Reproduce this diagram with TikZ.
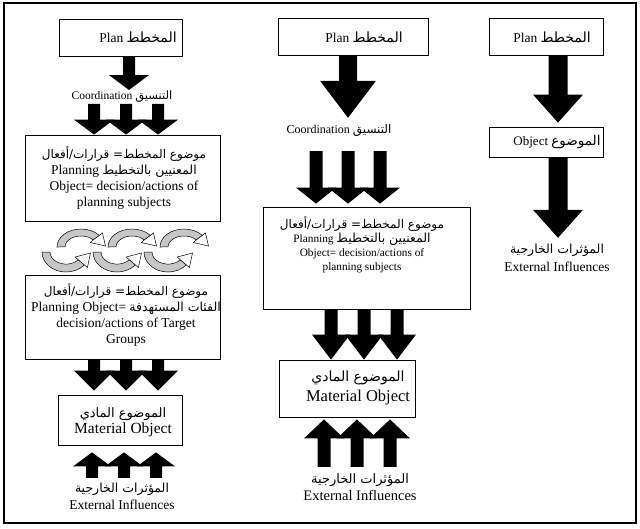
\documentclass[tikz,border=0pt]{standalone}
\usepackage{fontspec}
\setmainfont{Liberation Serif}
\newfontfamily\arabicfont[Script=Arabic]{DejaVu Sans}
\TeXXeTstate=1
\usetikzlibrary{calc}

% Arabic run: size in pt, text
\newcommand{\artext}[2]{\hbox{\fontsize{#1}{#1}\arabicfont #2}}
% fat block arrow: start, tip, shaft half width, head half width, head length
\newcommand{\fatarrow}[5]{%
  \fill let \p1=#1, \p2=#2 in
    ({\x1-#3},\y1) -- ({\x1+#3},\y1) -- ({\x1+#3},{\y2+(#5)}) -- ({\x1+#4},{\y2+(#5)})
    -- (\x1,\y2) -- ({\x1-#4},{\y2+(#5)}) -- ({\x1-#3},{\y2+(#5)}) -- cycle;}
% curved arrows between the two object boxes
\newcommand{\overcurve}[2]{%
  \begin{scope}[shift={(#1,#2)}]
    \filldraw[curveband] (-24,0) arc[start angle=180,end angle=320,x radius=24,y radius=18]
      -- (12.3,-7.1) arc[start angle=320,end angle=180,x radius=16,y radius=11] -- cycle;
    \filldraw[curvehead] (18.4,-11.6) -- (21.4,-14.1) -- (24.5,-1) -- (9.2,-4.5) -- (12.3,-7.1) -- cycle;
  \end{scope}}
\newcommand{\undercurve}[2]{%
  \begin{scope}[shift={(#1,#2)}]
    \filldraw[curveband] (-24,0) arc[start angle=180,end angle=40,x radius=24,y radius=20]
      -- (12.3,7.8) arc[start angle=40,end angle=180,x radius=16,y radius=12] -- cycle;
    \filldraw[curvehead] (18.4,12.9) -- (21.4,15.6) -- (24.5,1) -- (9.2,5) -- (12.3,7.8) -- cycle;
  \end{scope}}

\tikzset{
  frame/.style={draw, line width=1.4pt},
  box/.style={draw, line width=0.8pt, inner sep=0pt},
  lbl/.style={inner sep=1pt},
  curveband/.style={draw, line width=0.5pt, fill=gray!45},
  curvehead/.style={draw, line width=0.5pt, fill=white},
}

\begin{document}
\begin{tikzpicture}[x=1pt,y=-1pt]
\useasboundingbox (0,0) rectangle (640,528);
\draw[frame] (4,3) rectangle (636,523);

% left column
\node[box, minimum width=123pt, minimum height=37pt] (plana) at (120.5,37.5) {};
\node[lbl, font=\fontsize{13.5}{15}\selectfont] (planatxt) at (138,37) {Plan \artext{14}{\beginR المخطط\endR}};
\node[lbl, font=\fontsize{11.5}{15}\selectfont] (coorda) at (122,97) {Coordination \artext{11.5}{\beginR التنسيق\endR}};
\node[box, minimum width=195pt, minimum height=86pt] (subja) at (122.5,178) {};
\node[lbl, font=\fontsize{13.5}{16}\selectfont] (subjatxt) at (124,179)
  {\begin{tabular}{@{}c@{}}
   \artext{12}{\beginR موضوع المخطط= قرارات/أفعال\endR}\\
   Planning \artext{12.5}{\beginR المعنيين بالتخطيط\endR}\\
   Object= decision/actions of\\
   planning subjects
   \end{tabular}};
\node[box, minimum width=195pt, minimum height=84pt] (targa) at (122.5,317) {};
\node[lbl, font=\fontsize{13.5}{16}\selectfont] (targatxt) at (126,316)
  {\begin{tabular}{@{}c@{}}
   \artext{12}{\beginR موضوع المخطط= قرارات/أفعال\endR}\\
   Planning Object= \artext{12.5}{\beginR الفئات المستهدفة\endR}\\
   decision/actions of Target\\
   Groups
   \end{tabular}};
\node[box, minimum width=124pt, minimum height=50pt] (mata) at (120,420) {};
\node[lbl, font=\fontsize{15.5}{16}\selectfont] (matatxt) at (123,422)
  {\begin{tabular}{@{}c@{}}\artext{13}{\beginR الموضوع المادي\endR}\\ Material Object\end{tabular}};
\node[lbl, font=\fontsize{13.5}{17}\selectfont] (exta) at (122,498)
  {\begin{tabular}{@{}c@{}}\artext{12.5}{\beginR المؤثرات الخارجية\endR}\\ External Influences\end{tabular}};

\fatarrow{($(plana.south)+(8.5,0)$)}{(coorda.north)}{6pt}{20pt}{15pt}
\foreach \dx in {-28,4,36}
  {\fatarrow{($(coorda.south)+(\dx,0)$)}{(subja.north)}{6pt}{20pt}{15pt}}
\foreach \cx in {81,132,184} {\overcurve{\cx}{247}}
\foreach \cx in {66,117,168} {\undercurve{\cx}{252}}
\foreach \dx in {-28.5,3.5,35.5}
  {\fatarrow{($(targa.south)+(\dx,0)$)}{($(mata.north)+(0,-4)$)}{6pt}{20pt}{20pt}}
\foreach \dx in {-30,2,34}
  {\fatarrow{($(exta.north)+(\dx,-2)$)}{($(mata.south)+(0,7)$)}{6pt}{19pt}{-14pt}}

% middle column
\node[box, minimum width=150pt, minimum height=37pt] (planb) at (353,36.5) {};
\node[lbl, font=\fontsize{13.5}{15}\selectfont] (planbtxt) at (364,37) {Plan \artext{14}{\beginR المخطط\endR}};
\node[lbl, font=\fontsize{12}{15}\selectfont] (coordb) at (339,130) {Coordination \artext{12}{\beginR التنسيق\endR}};
\node[box, minimum width=207pt, minimum height=102pt] (subjb) at (366.5,258) {};
\node[lbl, font=\fontsize{11.3}{14}\selectfont] (subjbtxt) at (362,246)
  {\begin{tabular}{@{}c@{}}
   \artext{12}{\beginR موضوع المخطط= قرارات/أفعال\endR}\\
   Planning \artext{12.5}{\beginR المعنيين بالتخطيط\endR}\\
   Object= decision/actions of\\
   planning subjects
   \end{tabular}};
\node[box, minimum width=136pt, minimum height=57pt] (matb) at (347,388.5) {};
\node[lbl, font=\fontsize{16.5}{20}\selectfont] (matbtxt) at (358,387)
  {\begin{tabular}{@{}c@{}}\artext{14}{\beginR الموضوع المادي\endR}\\ Material Object\end{tabular}};
\node[lbl, font=\fontsize{14.5}{17}\selectfont] (extb) at (360,489)
  {\begin{tabular}{@{}c@{}}\artext{13}{\beginR المؤثرات الخارجية\endR}\\ External Influences\end{tabular}};

\fatarrow{($(planb.south)+(-5,0)$)}{($(coordb.north)+(0,-5)$)}{9pt}{28pt}{37pt}
\foreach \dx in {-23,9,41}
  {\fatarrow{($(coordb.south)+(\dx,14)$)}{($(subjb.north)+(0,-3)$)}{6.5pt}{20pt}{16pt}}
\foreach \dx in {-35.5,-2.5,30.5}
  {\fatarrow{($(subjb.south)+(\dx,0)$)}{(matb.north)}{6.5pt}{19pt}{25pt}}
\foreach \dx in {-36,-3,30}
  {\fatarrow{($(extb.north)+(\dx,-4)$)}{($(matb.south)+(0,2)$)}{6.5pt}{20pt}{-19pt}}

% right column
\node[box, minimum width=114pt, minimum height=37pt] (planc) at (546,36.5) {};
\node[lbl, font=\fontsize{13.5}{15}\selectfont] (planctxt) at (552,37) {Plan \artext{14}{\beginR المخطط\endR}};
\node[box, minimum width=114pt, minimum height=30pt] (objc) at (546,142) {};
\node[lbl, font=\fontsize{13}{15}\selectfont] (objctxt) at (557,142) {Object \artext{13.5}{\beginR الموضوع\endR}};
\node[lbl, font=\fontsize{13.5}{18}\selectfont] (extc) at (557,259)
  {\begin{tabular}{@{}c@{}}\artext{12.5}{\beginR المؤثرات الخارجية\endR}\\ External Influences\end{tabular}};

\fatarrow{($(planc.south)+(12,0)$)}{($(objc.north)+(0,-4)$)}{9.5pt}{25pt}{28pt}
\fatarrow{($(objc.south)+(12,0)$)}{($(extc.north)+(0,-2)$)}{9.5pt}{25pt}{28pt}
\end{tikzpicture}
\end{document}
